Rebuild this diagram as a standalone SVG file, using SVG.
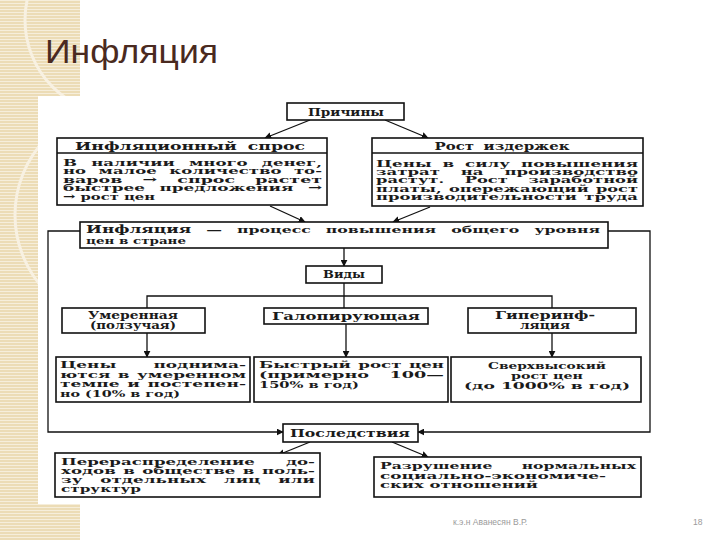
<svg xmlns="http://www.w3.org/2000/svg" width="720" height="540" viewBox="0 0 720 540">
<defs>
<pattern id="stripes" width="6" height="3" patternUnits="userSpaceOnUse">
<rect width="6" height="3" fill="#ecdcb6"/>
<rect width="6" height="1" fill="#f6eedb"/>
</pattern>
<clipPath id="strip"><rect x="0" y="0" width="80" height="540"/></clipPath>
<marker id="ah" viewBox="0 0 10 10" refX="9" refY="5" markerWidth="7" markerHeight="7" orient="auto" markerUnits="userSpaceOnUse">
<path d="M0,0 L10,5 L0,10 z" fill="#111"/>
</marker>
<style>
.bx{fill:#fff;stroke:#111;stroke-width:1.6}
.ln{fill:none;stroke:#111;stroke-width:1.3}
.t{font-family:"DejaVu Serif","Liberation Serif",serif;font-weight:bold;font-size:9.8px;fill:#1a1a1a}
.h{font-size:10.4px}
.c{text-anchor:middle}
.title{font-family:"Liberation Sans",sans-serif;font-size:33px;fill:#4a2a20}
.foot{font-family:"Liberation Sans",sans-serif;font-size:8.5px;fill:#9a9a9a}
</style>
</defs>
<rect width="720" height="540" fill="#fff"/>
<g id="background">
<rect x="0" y="0" width="80" height="540" fill="url(#stripes)"/>
<g clip-path="url(#strip)" fill="none" stroke="#f8f1e2" stroke-width="3">
<circle cx="120" cy="20" r="95"/>
<circle cx="125" cy="215" r="110"/>
</g>
<rect x="38" y="96" width="622" height="408" fill="#fff"/>
</g>
<text class="title" x="45" y="63" textLength="173" lengthAdjust="spacingAndGlyphs">Инфляция</text>
<g id="connectors">
<line class="ln" x1="310" y1="120" x2="265" y2="138" marker-end="url(#ah)"/>
<line class="ln" x1="385" y1="120" x2="428" y2="138" marker-end="url(#ah)"/>
<line class="ln" x1="270" y1="206" x2="305" y2="222" marker-end="url(#ah)"/>
<line class="ln" x1="430" y1="207" x2="393" y2="222" marker-end="url(#ah)"/>
<polyline class="ln" points="80,231 48,231 48,432 283,432" marker-end="url(#ah)"/>
<polyline class="ln" points="608,231 650,231 650,432 418,432" marker-end="url(#ah)"/>
<line class="ln" x1="344" y1="248" x2="344" y2="266" marker-end="url(#ah)"/>
<line class="ln" x1="344" y1="283" x2="344" y2="308"/>
<polyline class="ln" points="147,308 147,296 552,296 552,308"/>
<line class="ln" x1="147" y1="333" x2="147" y2="357" marker-end="url(#ah)"/>
<line class="ln" x1="346" y1="324" x2="346" y2="357" marker-end="url(#ah)"/>
<line class="ln" x1="552" y1="333" x2="552" y2="357" marker-end="url(#ah)"/>
<line class="ln" x1="310" y1="442" x2="278" y2="455" marker-end="url(#ah)"/>
<line class="ln" x1="392" y1="442" x2="428" y2="457" marker-end="url(#ah)"/>
</g>
<g id="prichiny">
<rect class="bx" x="287" y="103" width="117" height="17"/>
<text class="t h c" x="346" y="115.5" textLength="76" lengthAdjust="spacingAndGlyphs">Причины</text>
</g>
<g id="infl-spros">
<rect class="bx" x="57" y="138" width="270" height="67"/>
<line class="ln" x1="57" y1="153" x2="327" y2="153"/>
<text class="t h c" x="190" y="149.5" word-spacing="3" textLength="230" lengthAdjust="spacingAndGlyphs">Инфляционный спрос</text>
<text class="t" x="63" y="166" word-spacing="5" textLength="259" lengthAdjust="spacingAndGlyphs">В наличии много денег,</text>
<text class="t" x="63" y="174.4" word-spacing="4" textLength="259" lengthAdjust="spacingAndGlyphs">но малое количество то-</text>
<text class="t" x="63" y="182.8" word-spacing="8" textLength="259" lengthAdjust="spacingAndGlyphs">варов → спрос растет</text>
<text class="t" x="63" y="191.2" word-spacing="5" textLength="259" lengthAdjust="spacingAndGlyphs">быстрее предложения →</text>
<text class="t" x="63" y="199.6" textLength="92" lengthAdjust="spacingAndGlyphs">→ рост цен</text>
</g>
<g id="rost-izderzhek">
<rect class="bx" x="372" y="138" width="271" height="68"/>
<line class="ln" x1="372" y1="153" x2="643" y2="153"/>
<text class="t h c" x="502" y="149.5" word-spacing="3" textLength="135" lengthAdjust="spacingAndGlyphs">Рост издержек</text>
<text class="t" x="376" y="166.5" word-spacing="3" textLength="262" lengthAdjust="spacingAndGlyphs">Цены в силу повышения</text>
<text class="t" x="376" y="175" word-spacing="9" textLength="262" lengthAdjust="spacingAndGlyphs">затрат на производство</text>
<text class="t" x="376" y="183.2" word-spacing="9" textLength="262" lengthAdjust="spacingAndGlyphs">растут. Рост заработной</text>
<text class="t" x="376" y="191.5" word-spacing="1" textLength="262" lengthAdjust="spacingAndGlyphs">платы, опережающий рост</text>
<text class="t" x="376" y="200" word-spacing="1" textLength="262" lengthAdjust="spacingAndGlyphs">производительности труда</text>
</g>
<g id="inflyaciya">
<rect class="bx" x="80" y="222" width="528" height="26"/>
<text class="t" x="86" y="233" word-spacing="6" textLength="514" lengthAdjust="spacingAndGlyphs"><tspan font-size="10.5px">Инфляция</tspan> — процесс повышения общего уровня</text>
<text class="t" x="86" y="244" textLength="100" lengthAdjust="spacingAndGlyphs">цен в стране</text>
</g>
<g id="vidy">
<rect class="bx" x="306" y="266" width="76" height="17"/>
<text class="t h c" x="344" y="278" textLength="42" lengthAdjust="spacingAndGlyphs">Виды</text>
</g>
<g id="umerennaya">
<rect class="bx" x="62" y="308" width="143" height="25"/>
<text class="t h c" x="133" y="318.5" textLength="90" lengthAdjust="spacingAndGlyphs">Умеренная</text>
<text class="t h c" x="133" y="329" textLength="86" lengthAdjust="spacingAndGlyphs">(ползучая)</text>
</g>
<g id="galopiruyuschaya">
<rect class="bx" x="264" y="308" width="164" height="16"/>
<text class="t h c" x="346" y="319.5" textLength="148" lengthAdjust="spacingAndGlyphs">Галопирующая</text>
</g>
<g id="giperinflyaciya">
<rect class="bx" x="468" y="308" width="168" height="25"/>
<text class="t h c" x="545" y="318.5" textLength="100" lengthAdjust="spacingAndGlyphs">Гиперинф-</text>
<text class="t h c" x="545" y="329" textLength="50" lengthAdjust="spacingAndGlyphs">ляция</text>
</g>
<g id="umerennaya-desc">
<rect class="bx" x="56" y="357" width="194" height="45"/>
<text class="t" x="60" y="368" word-spacing="18" textLength="186" lengthAdjust="spacingAndGlyphs">Цены поднима-</text>
<text class="t" x="60" y="377.5" word-spacing="1" textLength="186" lengthAdjust="spacingAndGlyphs">ются в умеренном</text>
<text class="t" x="60" y="387" word-spacing="1" textLength="186" lengthAdjust="spacingAndGlyphs">темпе и постепен-</text>
<text class="t" x="60" y="396.5" textLength="120" lengthAdjust="spacingAndGlyphs">но (10% в год)</text>
</g>
<g id="galop-desc">
<rect class="bx" x="254" y="357" width="194" height="45"/>
<text class="t" x="259" y="368" word-spacing="1" textLength="185" lengthAdjust="spacingAndGlyphs">Быстрый рост цен</text>
<text class="t" x="259" y="378" word-spacing="8" textLength="185" lengthAdjust="spacingAndGlyphs">(примерно 100—</text>
<text class="t" x="259" y="388" textLength="100" lengthAdjust="spacingAndGlyphs">150% в год)</text>
</g>
<g id="giper-desc">
<rect class="bx" x="451" y="357" width="190" height="45"/>
<text class="t c" x="547" y="368.5" textLength="118" lengthAdjust="spacingAndGlyphs">Сверхвысокий</text>
<text class="t c" x="547" y="378.5" textLength="72" lengthAdjust="spacingAndGlyphs">рост цен</text>
<text class="t c" x="547" y="388.5" textLength="166" lengthAdjust="spacingAndGlyphs">(до 1000% в год)</text>
</g>
<g id="posledstviya">
<rect class="bx" x="283" y="424" width="135" height="18"/>
<text class="t h c" x="350" y="437" textLength="120" lengthAdjust="spacingAndGlyphs">Последствия</text>
</g>
<g id="pereraspredelenie">
<rect class="bx" x="55" y="453" width="265" height="44"/>
<text class="t" x="61" y="465" word-spacing="15" textLength="254" lengthAdjust="spacingAndGlyphs">Перераспределение до-</text>
<text class="t" x="61" y="474" word-spacing="1" textLength="254" lengthAdjust="spacingAndGlyphs">ходов в обществе в поль-</text>
<text class="t" x="61" y="483" word-spacing="7" textLength="254" lengthAdjust="spacingAndGlyphs">зу отдельных лиц или</text>
<text class="t" x="61" y="492" textLength="80" lengthAdjust="spacingAndGlyphs">структур</text>
</g>
<g id="razrushenie">
<rect class="bx" x="374" y="457" width="267" height="40"/>
<text class="t" x="380" y="469" word-spacing="15" textLength="256" lengthAdjust="spacingAndGlyphs">Разрушение нормальных</text>
<text class="t" x="380" y="478.5" textLength="226" lengthAdjust="spacingAndGlyphs">социально-экономиче-</text>
<text class="t" x="380" y="488" textLength="158" lengthAdjust="spacingAndGlyphs">ских отношений</text>
</g>
<text class="foot" x="453" y="525">к.э.н Аванесян В.Р.</text>
<text class="foot" x="693" y="525">18</text>
</svg>
